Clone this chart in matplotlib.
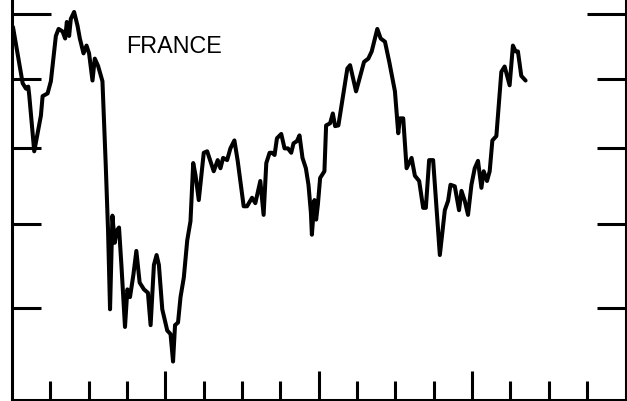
import matplotlib
matplotlib.use("Agg")
import matplotlib.pyplot as plt
from matplotlib.ticker import FixedLocator, NullFormatter

# time in years from the start of the axis (axis spans 0..16)
t = [0.026, 0.278, 0.364, 0.424, 0.450, 0.580, 0.754, 0.798, 0.928, 1.014,
     1.144, 1.215, 1.319, 1.386, 1.430, 1.490, 1.534, 1.620, 1.709, 1.769,
     1.865, 1.943, 2.010, 2.099, 2.159, 2.244, 2.359, 2.445, 2.505, 2.557,
     2.619, 2.679, 2.731, 2.791, 2.853, 2.947, 3.009, 3.077, 3.165, 3.243,
     3.329, 3.441, 3.545, 3.615, 3.701, 3.771, 3.831, 3.919, 4.049, 4.135,
     4.200, 4.252, 4.330, 4.395, 4.481, 4.570, 4.655, 4.726, 4.785, 4.871,
     5.001, 5.090, 5.261, 5.365, 5.436, 5.506, 5.610, 5.696, 5.800, 5.886,
     6.042, 6.130, 6.260, 6.346, 6.476, 6.562, 6.632, 6.718, 6.780, 6.848,
     6.910, 7.022, 7.108, 7.196, 7.282, 7.342, 7.430, 7.498, 7.576, 7.664,
     7.732, 7.795, 7.821, 7.888, 7.932, 7.977, 8.036, 8.148, 8.192, 8.296,
     8.367, 8.427, 8.512, 8.746, 8.817, 8.973, 9.181, 9.293, 9.381, 9.527,
     9.615, 9.727, 9.839, 9.987, 10.073, 10.117, 10.203, 10.291, 10.421, 10.507,
     10.619, 10.723, 10.793, 10.879, 10.983, 11.072, 11.158, 11.288, 11.373, 11.436,
     11.548, 11.659, 11.722, 11.808, 11.893, 11.982, 12.068, 12.153, 12.242, 12.302,
     12.388, 12.458, 12.528, 12.632, 12.762, 12.848, 12.978, 13.064, 13.134, 13.194,
     13.282, 13.394]

france = [137.9, 129.3, 128.5, 128.8, 127.5, 119.6, 124.6, 127.4, 127.8, 129.6,
          136.5, 137.6, 137.2, 136.1, 138.7, 136.5, 139.2, 140.3, 138.1, 136.1,
          133.8, 135.0, 133.8, 129.7, 133.0, 131.9, 129.6, 117.7, 109.2, 99.8,
          111.1, 107.7, 109.2, 109.6, 105.0, 97.8, 102.1, 101.2, 103.8, 106.7,
          102.9, 102.1, 101.7, 98.0, 105.0, 106.2, 105.0, 99.8, 97.4, 97.0,
          94.0, 98.0, 98.3, 101.2, 103.5, 108.0, 110.4, 118.0, 116.4, 113.1,
          119.4, 119.6, 116.9, 118.4, 117.3, 118.7, 118.4, 120.0, 121.1, 118.3,
          112.3, 112.3, 113.4, 112.7, 115.6, 111.2, 118.0, 119.4, 119.4, 119.1,
          121.4, 122.0, 120.0, 120.0, 119.4, 120.7, 121.0, 121.8, 118.7, 117.3,
          115.1, 111.5, 108.7, 113.1, 110.6, 112.5, 116.0, 116.9, 123.2, 123.5,
          124.9, 123.1, 123.2, 131.5, 132.0, 128.1, 132.5, 133.0, 134.1, 137.6,
          136.1, 135.6, 132.5, 128.1, 122.1, 124.2, 124.2, 117.3, 118.7, 116.3,
          115.6, 112.1, 112.1, 118.4, 118.4, 112.1, 106.2, 111.8, 113.0, 115.1,
          114.9, 111.8, 114.3, 113.0, 111.2, 115.1, 117.3, 118.3, 114.7, 116.9,
          115.6, 116.9, 121.1, 121.7, 131.0, 131.8, 129.0, 135.0, 134.1, 134.1,
          130.4, 129.7]

y_major = [140]
y_minor = [100, 110, 120, 130]
x_major = [4, 8, 12]
x_minor = [1, 2, 3, 5, 6, 7, 9, 10, 11, 13, 14, 15]

W, H = 627, 402
fig = plt.figure(figsize=(W / 100, H / 100), dpi=100)
ax = fig.add_axes([12 / W, 1.5 / H, 613.5 / W, 400.5 / H])

ax.plot(t, france, color="black", linewidth=2.9, solid_joinstyle="round",
        solid_capstyle="round", clip_on=False)

ax.set_yscale("log")
ax.set_ylim(90, 142.4)
ax.set_xlim(0, 16)

ax.yaxis.set_major_locator(FixedLocator(y_major))
ax.yaxis.set_minor_locator(FixedLocator(y_minor))
ax.xaxis.set_major_locator(FixedLocator(x_major))
ax.xaxis.set_minor_locator(FixedLocator(x_minor))
for axis in (ax.xaxis, ax.yaxis):
    axis.set_major_formatter(NullFormatter())
    axis.set_minor_formatter(NullFormatter())

ax.spines["top"].set_visible(False)
for s in ("left", "right", "bottom"):
    ax.spines[s].set_linewidth(2.2)
    ax.spines[s].set_color("black")

ax.tick_params(which="both", direction="in", left=True, right=True,
               bottom=True, top=False, width=2.2, color="black")
ax.tick_params(axis="y", which="major", length=28)
ax.tick_params(axis="y", which="minor", length=21)
ax.tick_params(axis="x", which="major", length=21)
ax.tick_params(axis="x", which="minor", length=14)

fig.text(126 / W, 1 - 53 / H, "FRANCE", fontsize=16.8,
         family="Liberation Sans", va="baseline", ha="left", color="black")

fig.savefig("out.png", dpi=100)
